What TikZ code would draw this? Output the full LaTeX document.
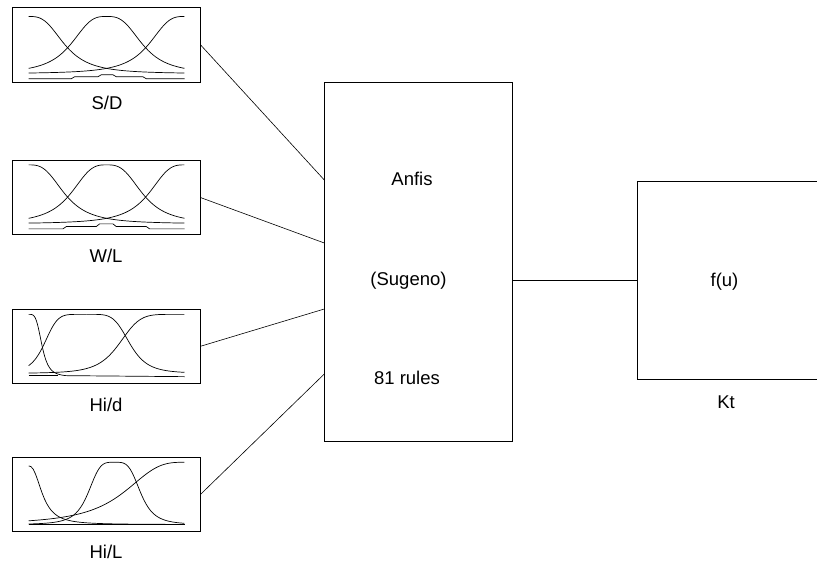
\documentclass[tikz,border=0pt]{standalone}
\usepackage{fontspec}
\setmainfont{Liberation Sans}
\tikzset{
  mfbox/.style={draw, line width=0.8pt, minimum width=188pt, minimum height=74.5pt, inner sep=0pt},
  blockbox/.style={draw, line width=0.8pt, inner sep=0pt},
  mf/.style={line width=0.7pt, line join=round},
  wire/.style={line width=0.6pt},
  lbl/.style={inner sep=0pt},
}
\begin{document}
\begin{tikzpicture}[x=1pt,y=-1pt]
\clip (0,0) rectangle (817,563);
{\fontsize{18.5}{22}\selectfont

% Drawing input box S/D
\node[mfbox] (sd) at (106,44.7) {};
\node[lbl] (sdlbl) at (107,103) {S/D};
\begin{scope}[shift={(sd.north west)}]
\draw[mf] plot[domain=0:1,samples=70] ({17+156*\x},{66.7-57.3/(1+abs(\x/0.235)^3)});
\draw[mf] plot[domain=0:1,samples=70] ({17+156*\x},{66.7-57.3/(1+abs((\x-0.5)/0.235)^3)});
\draw[mf] plot[domain=0:1,samples=70] ({17+156*\x},{66.7-57.3/(1+abs((\x-1)/0.235)^3)});
\draw[mf] (17,71.7) -- (59.7,71.7) -- (63,69.7) -- (86.3,69.7) -- (89.7,67.7) -- (101.3,67.7)
  -- (104.7,69.7) -- (131.3,69.7) -- (134.7,71.7) -- (173,71.7);
\end{scope}

% Drawing input box W/L
\node[mfbox] (wl) at (106,197.5) {};
\node[lbl] (wllbl) at (106,256) {W/L};
\begin{scope}[shift={(wl.north west)}]
\draw[mf] plot[domain=0:1,samples=70] ({17+156*\x},{64-59/(1+abs(\x/0.235)^3)});
\draw[mf] plot[domain=0:1,samples=70] ({17+156*\x},{64-59/(1+abs((\x-0.5)/0.235)^3)});
\draw[mf] plot[domain=0:1,samples=70] ({17+156*\x},{64-59/(1+abs((\x-1)/0.235)^3)});
\draw[mf] (17,69) -- (51.3,69) -- (54.7,66.7) -- (84.7,66.7) -- (88,64) -- (101.3,64)
  -- (104.7,66.7) -- (134.7,66.7) -- (138,69) -- (173,69);
\end{scope}

% Drawing input box Hi/d
\node[mfbox] (hid) at (106,346.3) {};
\node[lbl] (hidlbl) at (106,405) {Hi/d};
\begin{scope}[shift={(hid.north west)}]
\draw[mf] plot[domain=0:0.24,samples=40] ({17+156*\x},{68-62.3/(1+abs(\x/0.086)^4)}) -- (173,68);
\draw[mf] (17,66.7) -- (46,66.7);
\draw[mf] plot[domain=0:0.37,samples=40] ({17+156*\x},{64.7-59/(1+abs((\x-0.37)/0.27)^6)});
\draw[mf] plot[domain=0.37:1,samples=60] ({17+156*\x},{64.7-59/(1+abs((\x-0.37)/0.28)^5)});
\draw[mf] plot[domain=0:1,samples=70] ({17+156*\x},{64.7-59/(1+abs((\x-1)/0.42)^6)});
\end{scope}

% Drawing input box Hi/L
\node[mfbox] (hil) at (106,494.5) {};
\node[lbl] (hillbl) at (106,552) {Hi/L};
\begin{scope}[shift={(hil.north west)}]
\draw[mf] plot[domain=0.001:1,samples=70] ({17+156*\x},{67.7-58.6/(1+(\x/0.092)^2.5)});
\draw[mf] plot[domain=0:1,samples=70] ({17+156*\x},{67.7-62.3/(1+abs((\x-0.55)/0.17)^4)});
\draw[mf] plot[domain=0:1,samples=70] ({17+156*\x},{67.7-62.3/(1+abs((\x-1)/0.4)^3)});
\draw[mf] (17,67.7) -- (173,67.7);
\end{scope}

% Drawing block Anfis
\node[blockbox, minimum width=187.6pt, minimum height=359pt] (anfis) at (418.5,262.2) {};
\node[lbl] (anfisa) at (412,179) {Anfis};
\node[lbl] (anfisb) at (408.5,281) {(Sugeno)};
\node[lbl] (anfisc) at (407,378) {81 rules};

% Drawing block f(u)
\node[blockbox, minimum width=200pt, minimum height=197.3pt] (fu) at (737.3,280.3) {};
\node[lbl] (fulbl) at (724.5,282) {f(u)};
\node[lbl] (kt) at (726,402.5) {Kt};

% Drawing connections
\coordinate (in1) at (anfis.west |- 0,180);
\coordinate (in2) at (anfis.west |- 0,243);
\coordinate (in3) at (anfis.west |- 0,309);
\coordinate (in4) at (anfis.west |- 0,374);
\draw[wire] (sd.east) -- (in1);
\draw[wire] (wl.east) -- (in2);
\draw[wire] (hid.east) -- (in3);
\draw[wire] (hil.east) -- (in4);
\draw[wire] (anfis.east |- fu.west) -- (fu.west);
}
\end{tikzpicture}
\end{document}
